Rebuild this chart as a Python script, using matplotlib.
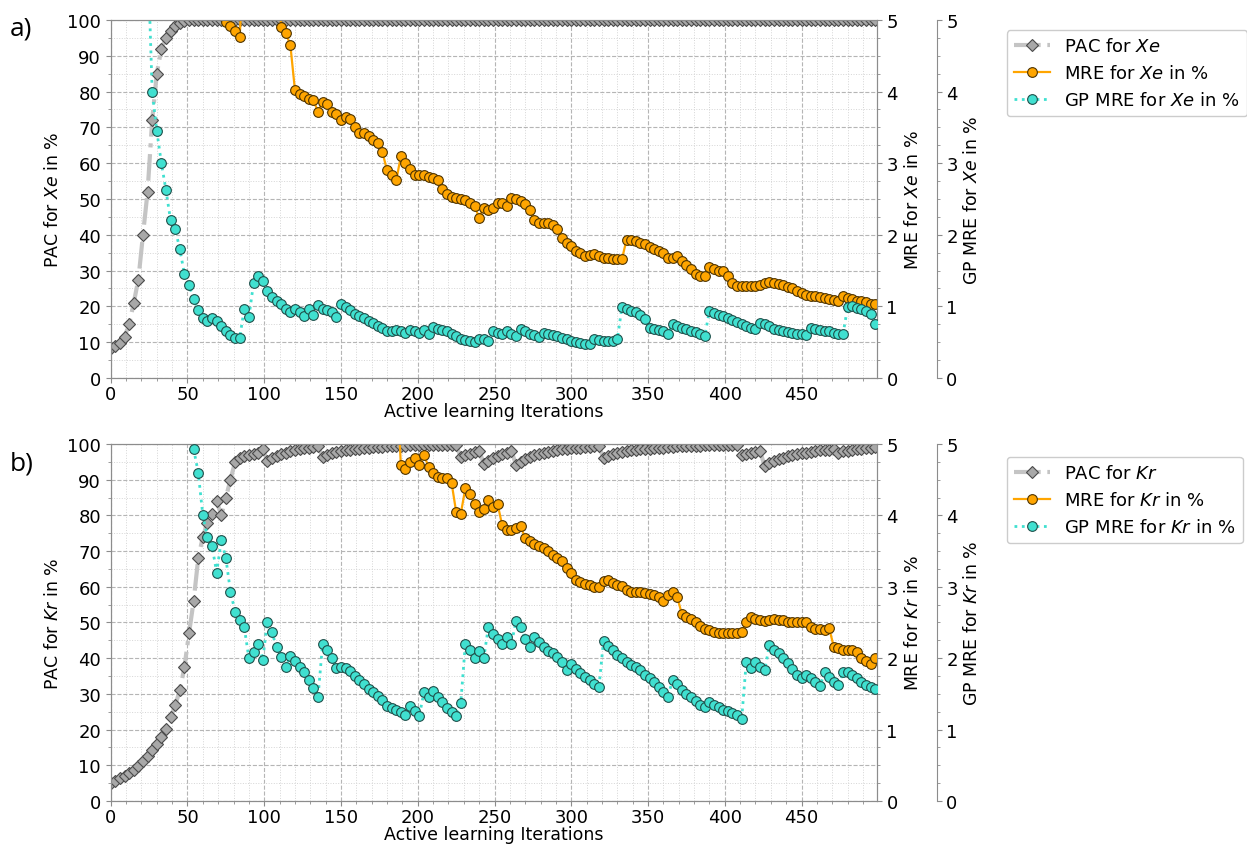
import numpy as np
import matplotlib
matplotlib.use('Agg')
import matplotlib.pyplot as plt
from matplotlib.ticker import MultipleLocator

iterations = np.arange(0, 499, 3)

# ---- panel a) Xe ----
pac_xe = [
    8.4, 8.8, 9.8, 11.5, 15, 21, 27.5, 40, 52, 72,
    85, 92, 95, 96.8, 98.2, 99.2, 99.6, 100, 100, 100,
    100, 100, 100, 100, 100, 100, 100, 100, 100, 100,
    100, 100, 100, 100, 100, 100, 100, 100, 100, 100,
    100, 100, 100, 100, 100, 100, 100, 100, 100, 100,
    100, 100, 100, 100, 100, 100, 100, 100, 100, 100,
    100, 100, 100, 100, 100, 100, 100, 100, 100, 100,
    100, 100, 100, 100, 100, 100, 100, 100, 100, 100,
    100, 100, 100, 100, 100, 100, 100, 100, 100, 100,
    100, 100, 100, 100, 100, 100, 100, 100, 100, 100,
    100, 100, 100, 100, 100, 100, 100, 100, 100, 100,
    100, 100, 100, 100, 100, 100, 100, 100, 100, 100,
    100, 100, 100, 100, 100, 100, 100, 100, 100, 100,
    100, 100, 100, 100, 100, 100, 100, 100, 100, 100,
    100, 100, 100, 100, 100, 100, 100, 100, 100, 100,
    100, 100, 100, 100, 100, 100, 100, 100, 100, 100,
    100, 100, 100, 100, 100, 100, 100,
]
# values above 5 lie outside the visible range
mre_xe = [
    6, 6, 6, 6, 6, 6, 6, 6, 6, 6,
    6, 6, 6, 6, 6, 6, 6, 6, 6, 6,
    6, 6, 6, 6, 6, 4.97, 4.92, 4.84, 4.76, 6,
    6, 6, 6, 6, 6, 6, 6, 4.9, 4.82, 4.65,
    4.02, 3.97, 3.94, 3.9, 3.88, 3.72, 3.85, 3.82, 3.72, 3.68,
    3.6, 3.64, 3.62, 3.5, 3.42, 3.42, 3.38, 3.33, 3.28, 3.15,
    2.9, 2.84, 2.76, 3.1, 3.0, 2.92, 2.84, 2.83, 2.84, 2.8,
    2.79, 2.76, 2.64, 2.57, 2.53, 2.51, 2.5, 2.48, 2.45, 2.4,
    2.24, 2.38, 2.34, 2.38, 2.44, 2.44, 2.4, 2.52, 2.5, 2.47,
    2.43, 2.34, 2.2, 2.17, 2.17, 2.17, 2.14, 2.08, 1.95, 1.88,
    1.85, 1.78, 1.74, 1.71, 1.72, 1.73, 1.7, 1.68, 1.67, 1.66,
    1.66, 1.66, 1.93, 1.93, 1.92, 1.89, 1.87, 1.83, 1.8, 1.77,
    1.74, 1.68, 1.68, 1.71, 1.64, 1.58, 1.52, 1.45, 1.43, 1.43,
    1.55, 1.52, 1.5, 1.49, 1.42, 1.32, 1.29, 1.29, 1.28, 1.29,
    1.29, 1.3, 1.32, 1.34, 1.33, 1.31, 1.3, 1.27, 1.25, 1.21,
    1.19, 1.16, 1.15, 1.14, 1.13, 1.12, 1.1, 1.09, 1.07, 1.15,
    1.12, 1.1, 1.08, 1.07, 1.06, 1.04, 1.03,
]
gp_xe = [
    6, 6, 6, 6, 6, 6, 6, 6, 6, 4.0,
    3.45, 3.0, 2.62, 2.2, 2.08, 1.8, 1.45, 1.3, 1.1, 0.95,
    0.84, 0.8, 0.84, 0.8, 0.72, 0.65, 0.6, 0.56, 0.56, 0.97,
    0.85, 1.32, 1.42, 1.35, 1.22, 1.13, 1.07, 1.03, 0.97, 0.92,
    0.97, 0.92, 0.86, 0.96, 0.88, 1.02, 0.97, 0.95, 0.92, 0.85,
    1.04, 0.99, 0.95, 0.9, 0.87, 0.84, 0.8, 0.77, 0.73, 0.7,
    0.66, 0.65, 0.67, 0.66, 0.63, 0.67, 0.66, 0.63, 0.67, 0.62,
    0.71, 0.69, 0.67, 0.65, 0.62, 0.58, 0.55, 0.53, 0.51, 0.5,
    0.55, 0.54, 0.51, 0.65, 0.63, 0.61, 0.65, 0.62, 0.58, 0.68,
    0.65, 0.62, 0.6, 0.57, 0.63, 0.61, 0.6, 0.58, 0.56, 0.54,
    0.52, 0.5, 0.49, 0.47, 0.47, 0.54, 0.53, 0.52, 0.51, 0.52,
    0.54, 0.99, 0.97, 0.94, 0.92, 0.88, 0.83, 0.7, 0.69, 0.67,
    0.65, 0.62, 0.75, 0.72, 0.7, 0.68, 0.66, 0.64, 0.62, 0.59,
    0.94, 0.91, 0.88, 0.86, 0.84, 0.81, 0.78, 0.75, 0.73, 0.7,
    0.68, 0.77, 0.75, 0.72, 0.69, 0.67, 0.66, 0.64, 0.63, 0.62,
    0.61, 0.6, 0.7, 0.69, 0.67, 0.66, 0.65, 0.63, 0.62, 0.61,
    0.99, 1.0, 0.98, 0.96, 0.94, 0.9, 0.76,
]

# ---- panel b) Kr ----
pac_kr = [
    5.1, 5.6, 6.5, 7.1, 7.8, 8.7, 9.8, 11.2, 12.7, 14.4,
    15.9, 17.8, 20.2, 23.5, 26.8, 31, 37.5, 47, 56, 68,
    74, 78, 80.5, 84, 80, 85, 90, 95, 96, 96.5,
    97, 97.2, 97.5, 98.6, 95.3, 96, 96.6, 97.2, 97.6, 98,
    98.3, 98.6, 98.8, 99, 99.2, 99.5, 96.3, 96.9, 97.4, 97.8,
    98, 98.2, 98.3, 98.5, 98.7, 98.9, 99, 99.1, 99.2, 99.2,
    99.3, 99.3, 99.4, 99.5, 99.5, 99.6, 99.6, 99.6, 99.6, 99.7,
    99.7, 99.7, 99.7, 99.7, 99.7, 99.7, 96.3, 96.8, 97.3, 97.7,
    98.1, 94.5, 95.2, 96, 96.6, 97.1, 97.6, 98.0, 94.2, 95,
    95.8, 96.4, 96.8, 97.2, 97.5, 97.8, 98.1, 98.3, 98.5, 98.6,
    98.8, 98.9, 99, 99.1, 99.2, 99.3, 99.4, 96, 96.6, 97.2,
    97.5, 97.8, 98, 98.2, 98.4, 98.5, 98.6, 98.7, 98.8, 98.9,
    99, 99.1, 99.2, 99.3, 99.4, 99.4, 99.5, 99.5, 99.5, 99.6,
    99.6, 99.6, 99.6, 99.6, 99.6, 99.7, 99.7, 96.8, 97.2, 97.5,
    97.7, 97.9, 93.8, 94.6, 95.2, 95.7, 96.2, 96.6, 96.9, 97.2,
    97.4, 97.6, 97.8, 98, 98.2, 98.3, 98.4, 98.5, 97.6, 97.9,
    98.1, 98.3, 98.5, 98.6, 98.8, 98.9, 99.1,
]
mre_kr = [
    6, 6, 6, 6, 6, 6, 6, 6, 6, 6,
    6, 6, 6, 6, 6, 6, 6, 6, 6, 6,
    6, 6, 6, 6, 6, 6, 6, 6, 6, 6,
    6, 6, 6, 6, 6, 6, 6, 6, 6, 6,
    6, 6, 6, 6, 6, 6, 6, 6, 6, 6,
    6, 6, 6, 6, 6, 6, 6, 6, 6, 6,
    6, 6, 6, 4.7, 4.65, 4.75, 4.8, 4.7, 4.85, 4.68,
    4.6, 4.54, 4.52, 4.52, 4.46, 4.05, 4.02, 4.38, 4.3, 4.16,
    4.05, 4.09, 4.22, 4.12, 4.16, 3.86, 3.8, 3.8, 3.82, 3.85,
    3.68, 3.64, 3.6, 3.57, 3.54, 3.5, 3.44, 3.4, 3.36, 3.27,
    3.2, 3.1, 3.07, 3.04, 3.02, 2.99, 2.99, 3.08, 3.09, 3.05,
    3.02, 3.01, 2.96, 2.93, 2.93, 2.92, 2.91, 2.9, 2.89, 2.86,
    2.8, 2.88, 2.92, 2.86, 2.62, 2.58, 2.55, 2.5, 2.45, 2.41,
    2.39, 2.37, 2.35, 2.35, 2.35, 2.35, 2.35, 2.37, 2.5, 2.58,
    2.55, 2.53, 2.52, 2.54, 2.55, 2.54, 2.53, 2.5, 2.51, 2.5,
    2.51, 2.5, 2.43, 2.41, 2.41, 2.4, 2.42, 2.16, 2.14, 2.12,
    2.11, 2.12, 2.08, 2.0, 1.96, 1.92, 2.0,
]
gp_kr = [
    6, 6, 6, 6, 6, 6, 6, 6, 6, 6,
    6, 6, 6, 6, 6, 6, 6, 6, 4.93, 4.6,
    4.0, 3.7, 3.57, 3.2, 3.65, 3.4, 2.93, 2.65, 2.53, 2.43,
    2.0, 2.08, 2.2, 1.98, 2.5, 2.36, 2.16, 2.02, 1.88, 2.03,
    1.96, 1.88, 1.8, 1.7, 1.58, 1.45, 2.2, 2.12, 2.0, 1.86,
    1.87, 1.86, 1.82, 1.75, 1.7, 1.64, 1.57, 1.52, 1.47, 1.41,
    1.33, 1.3, 1.28, 1.25, 1.2, 1.33, 1.26, 1.19, 1.52, 1.46,
    1.54, 1.45, 1.39, 1.3, 1.24, 1.19, 1.37, 2.2, 2.12, 2.0,
    2.1, 2.0, 2.44, 2.34, 2.27, 2.2, 2.3, 2.2, 2.52, 2.44,
    2.27, 2.16, 2.3, 2.22, 2.16, 2.1, 2.07, 2.01, 1.94, 1.83,
    1.92, 1.85, 1.79, 1.74, 1.7, 1.64, 1.59, 2.24, 2.17, 2.12,
    2.05, 2.0, 1.95, 1.9, 1.87, 1.84, 1.77, 1.72, 1.67, 1.6,
    1.53, 1.46, 1.7, 1.64, 1.56, 1.5, 1.45, 1.4, 1.35, 1.31,
    1.38, 1.34, 1.31, 1.28, 1.26, 1.23, 1.2, 1.15, 1.95, 1.86,
    1.94, 1.88, 1.83, 2.18, 2.12, 2.07, 2.0, 1.93, 1.85, 1.77,
    1.72, 1.77, 1.72, 1.66, 1.61, 1.8, 1.73, 1.67, 1.62, 1.8,
    1.81, 1.77, 1.72, 1.67, 1.63, 1.6, 1.57,
]

x_ticks = [0, 50, 100, 150, 200, 250, 300, 350, 400, 450]
spine_col = '#8c8c8c'

fig = plt.figure(figsize=(12.47, 8.45), dpi=100)


def draw_panel(rect, pac, mre, gp, elem, tag, tag_y, leg_top):
    ax = fig.add_axes(rect)
    ax2 = ax.twinx()
    ax3 = ax.twinx()
    ax3.spines['right'].set_position(('axes', 1.078))
    for s in ['top', 'left', 'bottom']:
        ax3.spines[s].set_visible(False)

    l1, = ax.plot(iterations, pac, '-.', color='#c4c4c4', lw=3,
                  marker='D', ms=6, mfc='#a8a8a8', mec='#4a4a4a', mew=0.8,
                  label='PAC for $\\mathit{%s}$' % elem)
    l2, = ax2.plot(iterations, mre, '-', color='orange', lw=1.6,
                   marker='o', ms=7, mfc='orange', mec='#4d3300', mew=0.8,
                   label='MRE for $\\mathit{%s}$ in %%' % elem)
    l3, = ax3.plot(iterations, gp, ':', color='turquoise', lw=2,
                   marker='o', ms=7, mfc='turquoise', mec='#1f4f4a', mew=0.8,
                   label='GP MRE for $\\mathit{%s}$ in %%' % elem)

    ax.set_xlim(0, 499)
    ax.set_ylim(0, 100)
    ax2.set_ylim(0, 5)
    ax3.set_ylim(0, 5)
    ax.set_xticks(x_ticks)
    ax.set_yticks(np.arange(0, 101, 10))
    ax2.set_yticks(np.arange(0, 6, 1))
    ax3.set_yticks(np.arange(0, 6, 1))
    ax.xaxis.set_minor_locator(MultipleLocator(10))
    ax.yaxis.set_minor_locator(MultipleLocator(5))
    ax2.yaxis.set_minor_locator(MultipleLocator(0.25))
    ax3.yaxis.set_minor_locator(MultipleLocator(0.25))

    ax.grid(which='major', ls='--', color='#b5b5b5', lw=0.8)
    ax.grid(which='minor', ls=':', color='#d5d5d5', lw=0.7)
    ax.set_axisbelow(True)

    for a in (ax, ax2, ax3):
        for s in a.spines.values():
            s.set_color(spine_col)
        a.tick_params(which='both', colors=spine_col, labelcolor='black',
                      labelsize=13)
        a.tick_params(which='minor', length=2)
    ax.tick_params(axis='x', pad=1.5)

    ax.set_ylabel('PAC for $\\mathit{%s}$ in %%' % elem, fontsize=12.5)
    ax2.set_ylabel('MRE for $\\mathit{%s}$ in %%' % elem, fontsize=12.5)
    ax3.set_ylabel('GP MRE for $\\mathit{%s}$ in %%' % elem, fontsize=12.5)
    ax.set_xlabel('Active learning Iterations', fontsize=12.5, labelpad=-0.5)

    fig.legend([l1, l2, l3], [l1.get_label(), l2.get_label(), l3.get_label()],
               loc='upper left', bbox_to_anchor=(0.800, leg_top),
               fontsize=13, framealpha=1, edgecolor='#cccccc')
    fig.text(0.008, tag_y, tag, fontsize=19, family='Open Sans', va='center')


draw_panel([0.0888, 0.5515, 0.6143, 0.4237], pac_xe, mre_xe, gp_xe, 'Xe',
           'a)', 0.966, 0.974)
draw_panel([0.0888, 0.0509, 0.6143, 0.4225], pac_kr, mre_kr, gp_kr, 'Kr',
           'b)', 0.451, 0.469)

fig.savefig('out.png', dpi=100)
